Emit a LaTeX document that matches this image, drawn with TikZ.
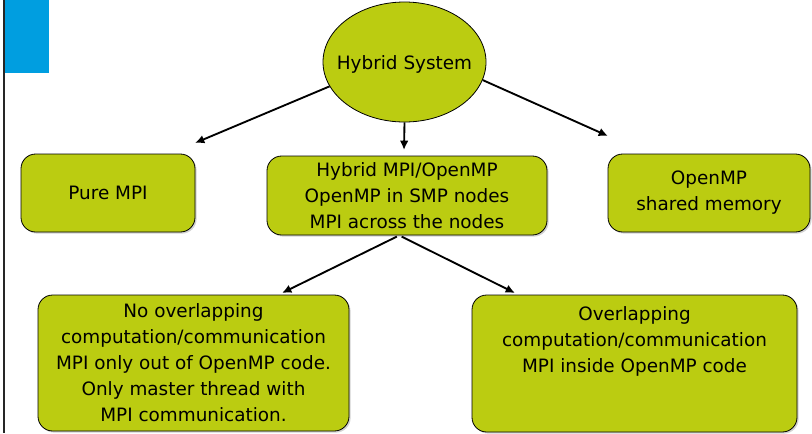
\documentclass[tikz,border=0pt]{standalone}
\usepackage{fontspec}
\setmainfont{DejaVu Sans}
\usetikzlibrary{shapes.geometric,shadows,arrows.meta}
\definecolor{slidegreen}{RGB}{187,204,17}
\definecolor{slideblue}{RGB}{0,158,224}
\tikzset{
  box/.style={draw, line width=0.6pt, rounded corners=11pt, fill=slidegreen, align=center,
    drop shadow={shadow xshift=1.2pt, shadow yshift=-1.2pt, opacity=0.35}},
  arr/.style={-{Latex[length=7pt,width=6.5pt]}, line width=1.4pt}
}
\begin{document}
\begin{tikzpicture}[x=0.75pt, y=-0.75pt, font=\fontsize{13.8}{19.5}\selectfont]
        \useasboundingbox (0,0) rectangle (812,433);
        % slide decoration
        \fill[slideblue] (5,0) rectangle (49,73);
        \draw[line width=1.2pt, black!85] (4,0) -- (4,433);

        \node[draw, ellipse, fill=slidegreen, line width=0.6pt, inner sep=0pt,
              minimum width=122.25pt, minimum height=90pt,
              label={[yshift=-2pt]center:Hybrid System}] (hybsys) at (404.5,62) {};
        \node[box, minimum width=130.5pt, minimum height=58.5pt]  (pure)   at (108,193)   {Pure MPI};
        \node[box, minimum width=210pt, minimum height=59.25pt]   (hybrid) at (407,195.5)
              {Hybrid MPI/OpenMP\\OpenMP in SMP nodes\\MPI across the nodes};
        \node[box, minimum width=151.5pt, minimum height=58.5pt]  (omp)    at (709,193)   {OpenMP\\shared memory};
        \node[box, minimum width=233.25pt, minimum height=102pt]  (noover) at (193.5,363)
              {No overlapping\\computation/communication\\MPI only out of OpenMP code.\\Only master thread with\\MPI communication.};
        \node[box, minimum width=243.75pt, minimum height=102.75pt, text depth=36pt] (over) at (634.5,363.5)
              {Overlapping\\computation/communication\\MPI inside OpenMP code};

        % arrow tips
        \coordinate (puretip)   at (195,143);
        \coordinate (hybridtip) at (404,150);
        \coordinate (omptip)    at (608,136);
        \coordinate (noovertip) at (282,293);
        \coordinate (overtip)   at (515,293);

        % Draw the edges
        \draw[arr] (hybsys.198)   -- (puretip);
        \draw[arr] (hybsys.south) -- (hybridtip);
        \draw[arr] (hybsys.347)   -- (omptip);
        \draw[arr, shorten <=2pt] (hybrid.259) -- (noovertip);
        \draw[arr, shorten <=2pt] (hybrid.259) -- (overtip);
    \end{tikzpicture}
\end{document}
